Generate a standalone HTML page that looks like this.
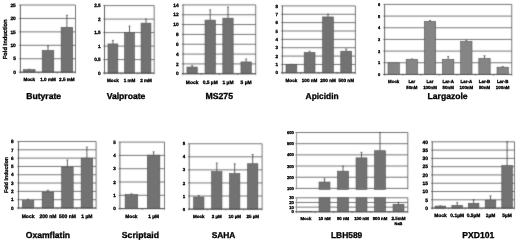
<!DOCTYPE html>
<html lang="en">
<head>
<meta charset="utf-8">
<title>HDAC inhibitor fold induction charts</title>
<style>
html,body{margin:0;padding:0;background:#fff;}
body{width:520px;height:243px;overflow:hidden;}
svg{display:block;font-family:"Liberation Sans",Arial,Helvetica,sans-serif;font-weight:bold;fill:#000;text-rendering:geometricPrecision;}
</style>
</head>
<body>
<svg width="520" height="243" viewBox="0 0 520 243">
<rect x="0" y="0" width="520" height="243" fill="#ffffff" stroke="none"/>
<defs>
<filter id="soft" x="0" y="0" width="520" height="243" filterUnits="userSpaceOnUse">
<feConvolveMatrix order="3" kernelMatrix="0.0144 0.0912 0.0144 0.0912 0.5776 0.0912 0.0144 0.0912 0.0144" divisor="1" edgeMode="duplicate" preserveAlpha="false"/>
</filter>
</defs>
<g filter="url(#soft)">
<line x1="19.20" y1="72.20" x2="75.50" y2="72.20" stroke="#555555" stroke-width="0.8"/>
<line x1="19.20" y1="58.76" x2="75.50" y2="58.76" stroke="#555555" stroke-width="0.8"/>
<line x1="19.20" y1="45.32" x2="75.50" y2="45.32" stroke="#555555" stroke-width="0.8"/>
<line x1="19.20" y1="31.88" x2="75.50" y2="31.88" stroke="#555555" stroke-width="0.8"/>
<line x1="19.20" y1="18.44" x2="75.50" y2="18.44" stroke="#555555" stroke-width="0.8"/>
<line x1="19.20" y1="5.00" x2="75.50" y2="5.00" stroke="#555555" stroke-width="0.8"/>
<line x1="20.40" y1="5.00" x2="20.40" y2="72.20" stroke="#505050" stroke-width="0.9"/>
<line x1="75.50" y1="5.00" x2="75.50" y2="72.20" stroke="#555555" stroke-width="0.8"/>
<line x1="29.30" y1="69.24" x2="29.30" y2="69.65" stroke="#444444" stroke-width="0.85"/>
<line x1="28.30" y1="69.24" x2="30.30" y2="69.24" stroke="#444444" stroke-width="0.7"/>
<rect x="23.55" y="69.65" width="11.50" height="2.55" fill="#727272" stroke="#4a4a4a" stroke-width="0.6"/>
<line x1="48.00" y1="45.86" x2="48.00" y2="50.43" stroke="#444444" stroke-width="0.85"/>
<line x1="47.00" y1="45.86" x2="49.00" y2="45.86" stroke="#444444" stroke-width="0.7"/>
<rect x="42.25" y="50.43" width="11.50" height="21.77" fill="#727272" stroke="#4a4a4a" stroke-width="0.6"/>
<line x1="66.90" y1="15.21" x2="66.90" y2="27.31" stroke="#444444" stroke-width="0.85"/>
<line x1="65.90" y1="15.21" x2="67.90" y2="15.21" stroke="#444444" stroke-width="0.7"/>
<rect x="61.15" y="27.31" width="11.50" height="44.89" fill="#727272" stroke="#4a4a4a" stroke-width="0.6"/>
<line x1="20.40" y1="72.20" x2="20.40" y2="73.40" stroke="#505050" stroke-width="0.7"/>
<line x1="38.77" y1="72.20" x2="38.77" y2="73.40" stroke="#505050" stroke-width="0.7"/>
<line x1="57.13" y1="72.20" x2="57.13" y2="73.40" stroke="#505050" stroke-width="0.7"/>
<line x1="75.50" y1="72.20" x2="75.50" y2="73.40" stroke="#505050" stroke-width="0.7"/>
<line x1="19.20" y1="72.20" x2="75.50" y2="72.20" stroke="#505050" stroke-width="0.9"/>
<line x1="103.30" y1="73.10" x2="154.20" y2="73.10" stroke="#555555" stroke-width="0.8"/>
<line x1="103.30" y1="59.60" x2="154.20" y2="59.60" stroke="#555555" stroke-width="0.8"/>
<line x1="103.30" y1="46.10" x2="154.20" y2="46.10" stroke="#555555" stroke-width="0.8"/>
<line x1="103.30" y1="32.60" x2="154.20" y2="32.60" stroke="#555555" stroke-width="0.8"/>
<line x1="103.30" y1="19.10" x2="154.20" y2="19.10" stroke="#555555" stroke-width="0.8"/>
<line x1="103.30" y1="5.60" x2="154.20" y2="5.60" stroke="#555555" stroke-width="0.8"/>
<line x1="104.50" y1="5.60" x2="104.50" y2="73.10" stroke="#505050" stroke-width="0.9"/>
<line x1="154.20" y1="5.60" x2="154.20" y2="73.10" stroke="#555555" stroke-width="0.8"/>
<line x1="112.90" y1="40.43" x2="112.90" y2="43.94" stroke="#444444" stroke-width="0.85"/>
<line x1="111.90" y1="40.43" x2="113.90" y2="40.43" stroke="#444444" stroke-width="0.7"/>
<rect x="108.00" y="43.94" width="9.80" height="29.16" fill="#727272" stroke="#4a4a4a" stroke-width="0.6"/>
<line x1="129.50" y1="26.12" x2="129.50" y2="32.60" stroke="#444444" stroke-width="0.85"/>
<line x1="128.50" y1="26.12" x2="130.50" y2="26.12" stroke="#444444" stroke-width="0.7"/>
<rect x="124.60" y="32.60" width="9.80" height="40.50" fill="#727272" stroke="#4a4a4a" stroke-width="0.6"/>
<line x1="146.00" y1="19.10" x2="146.00" y2="23.15" stroke="#444444" stroke-width="0.85"/>
<line x1="145.00" y1="19.10" x2="147.00" y2="19.10" stroke="#444444" stroke-width="0.7"/>
<rect x="141.10" y="23.15" width="9.80" height="49.95" fill="#727272" stroke="#4a4a4a" stroke-width="0.6"/>
<line x1="104.50" y1="73.10" x2="104.50" y2="74.30" stroke="#505050" stroke-width="0.7"/>
<line x1="121.07" y1="73.10" x2="121.07" y2="74.30" stroke="#505050" stroke-width="0.7"/>
<line x1="137.63" y1="73.10" x2="137.63" y2="74.30" stroke="#505050" stroke-width="0.7"/>
<line x1="154.20" y1="73.10" x2="154.20" y2="74.30" stroke="#505050" stroke-width="0.7"/>
<line x1="103.30" y1="73.10" x2="154.20" y2="73.10" stroke="#505050" stroke-width="0.9"/>
<line x1="181.90" y1="73.75" x2="255.70" y2="73.75" stroke="#555555" stroke-width="0.8"/>
<line x1="181.90" y1="63.91" x2="255.70" y2="63.91" stroke="#555555" stroke-width="0.8"/>
<line x1="181.90" y1="54.08" x2="255.70" y2="54.08" stroke="#555555" stroke-width="0.8"/>
<line x1="181.90" y1="44.24" x2="255.70" y2="44.24" stroke="#555555" stroke-width="0.8"/>
<line x1="181.90" y1="34.41" x2="255.70" y2="34.41" stroke="#555555" stroke-width="0.8"/>
<line x1="181.90" y1="24.57" x2="255.70" y2="24.57" stroke="#555555" stroke-width="0.8"/>
<line x1="181.90" y1="14.74" x2="255.70" y2="14.74" stroke="#555555" stroke-width="0.8"/>
<line x1="181.90" y1="4.90" x2="255.70" y2="4.90" stroke="#555555" stroke-width="0.8"/>
<line x1="183.10" y1="4.90" x2="183.10" y2="73.75" stroke="#505050" stroke-width="0.9"/>
<line x1="255.70" y1="4.90" x2="255.70" y2="73.75" stroke="#555555" stroke-width="0.8"/>
<line x1="192.10" y1="65.54" x2="192.10" y2="67.06" stroke="#444444" stroke-width="0.85"/>
<line x1="191.10" y1="65.54" x2="193.10" y2="65.54" stroke="#444444" stroke-width="0.7"/>
<rect x="186.95" y="67.06" width="10.30" height="6.69" fill="#727272" stroke="#4a4a4a" stroke-width="0.6"/>
<line x1="210.20" y1="9.82" x2="210.20" y2="20.15" stroke="#444444" stroke-width="0.85"/>
<line x1="209.20" y1="9.82" x2="211.20" y2="9.82" stroke="#444444" stroke-width="0.7"/>
<rect x="205.05" y="20.15" width="10.30" height="53.60" fill="#727272" stroke="#4a4a4a" stroke-width="0.6"/>
<line x1="228.00" y1="7.11" x2="228.00" y2="18.18" stroke="#444444" stroke-width="0.85"/>
<line x1="227.00" y1="7.11" x2="229.00" y2="7.11" stroke="#444444" stroke-width="0.7"/>
<rect x="222.85" y="18.18" width="10.30" height="55.57" fill="#727272" stroke="#4a4a4a" stroke-width="0.6"/>
<line x1="246.10" y1="59.00" x2="246.10" y2="61.95" stroke="#444444" stroke-width="0.85"/>
<line x1="245.10" y1="59.00" x2="247.10" y2="59.00" stroke="#444444" stroke-width="0.7"/>
<rect x="240.95" y="61.95" width="10.30" height="11.80" fill="#727272" stroke="#4a4a4a" stroke-width="0.6"/>
<line x1="183.10" y1="73.75" x2="183.10" y2="74.95" stroke="#505050" stroke-width="0.7"/>
<line x1="201.25" y1="73.75" x2="201.25" y2="74.95" stroke="#505050" stroke-width="0.7"/>
<line x1="219.40" y1="73.75" x2="219.40" y2="74.95" stroke="#505050" stroke-width="0.7"/>
<line x1="237.55" y1="73.75" x2="237.55" y2="74.95" stroke="#505050" stroke-width="0.7"/>
<line x1="255.70" y1="73.75" x2="255.70" y2="74.95" stroke="#505050" stroke-width="0.7"/>
<line x1="181.90" y1="73.75" x2="255.70" y2="73.75" stroke="#505050" stroke-width="0.9"/>
<line x1="281.20" y1="72.80" x2="355.40" y2="72.80" stroke="#555555" stroke-width="0.8"/>
<line x1="281.20" y1="64.44" x2="355.40" y2="64.44" stroke="#555555" stroke-width="0.8"/>
<line x1="281.20" y1="56.08" x2="355.40" y2="56.08" stroke="#555555" stroke-width="0.8"/>
<line x1="281.20" y1="47.71" x2="355.40" y2="47.71" stroke="#555555" stroke-width="0.8"/>
<line x1="281.20" y1="39.35" x2="355.40" y2="39.35" stroke="#555555" stroke-width="0.8"/>
<line x1="281.20" y1="30.99" x2="355.40" y2="30.99" stroke="#555555" stroke-width="0.8"/>
<line x1="281.20" y1="22.62" x2="355.40" y2="22.62" stroke="#555555" stroke-width="0.8"/>
<line x1="281.20" y1="14.26" x2="355.40" y2="14.26" stroke="#555555" stroke-width="0.8"/>
<line x1="281.20" y1="5.90" x2="355.40" y2="5.90" stroke="#555555" stroke-width="0.8"/>
<line x1="282.40" y1="5.90" x2="282.40" y2="72.80" stroke="#505050" stroke-width="0.9"/>
<line x1="355.40" y1="5.90" x2="355.40" y2="72.80" stroke="#555555" stroke-width="0.8"/>
<line x1="291.40" y1="64.27" x2="291.40" y2="64.44" stroke="#444444" stroke-width="0.85"/>
<line x1="290.40" y1="64.27" x2="292.40" y2="64.27" stroke="#444444" stroke-width="0.7"/>
<rect x="286.00" y="64.44" width="10.80" height="8.36" fill="#727272" stroke="#4a4a4a" stroke-width="0.6"/>
<line x1="309.60" y1="51.22" x2="309.60" y2="52.48" stroke="#444444" stroke-width="0.85"/>
<line x1="308.60" y1="51.22" x2="310.60" y2="51.22" stroke="#444444" stroke-width="0.7"/>
<rect x="304.20" y="52.48" width="10.80" height="20.32" fill="#727272" stroke="#4a4a4a" stroke-width="0.6"/>
<line x1="328.00" y1="14.26" x2="328.00" y2="16.94" stroke="#444444" stroke-width="0.85"/>
<line x1="327.00" y1="14.26" x2="329.00" y2="14.26" stroke="#444444" stroke-width="0.7"/>
<rect x="322.60" y="16.94" width="10.80" height="55.86" fill="#727272" stroke="#4a4a4a" stroke-width="0.6"/>
<line x1="346.20" y1="48.97" x2="346.20" y2="51.22" stroke="#444444" stroke-width="0.85"/>
<line x1="345.20" y1="48.97" x2="347.20" y2="48.97" stroke="#444444" stroke-width="0.7"/>
<rect x="340.80" y="51.22" width="10.80" height="21.58" fill="#727272" stroke="#4a4a4a" stroke-width="0.6"/>
<line x1="282.40" y1="72.80" x2="282.40" y2="74.00" stroke="#505050" stroke-width="0.7"/>
<line x1="300.65" y1="72.80" x2="300.65" y2="74.00" stroke="#505050" stroke-width="0.7"/>
<line x1="318.90" y1="72.80" x2="318.90" y2="74.00" stroke="#505050" stroke-width="0.7"/>
<line x1="337.15" y1="72.80" x2="337.15" y2="74.00" stroke="#505050" stroke-width="0.7"/>
<line x1="355.40" y1="72.80" x2="355.40" y2="74.00" stroke="#505050" stroke-width="0.7"/>
<line x1="281.20" y1="72.80" x2="355.40" y2="72.80" stroke="#505050" stroke-width="0.9"/>
<line x1="383.40" y1="74.45" x2="511.75" y2="74.45" stroke="#555555" stroke-width="0.8"/>
<line x1="383.40" y1="62.78" x2="511.75" y2="62.78" stroke="#555555" stroke-width="0.8"/>
<line x1="383.40" y1="51.10" x2="511.75" y2="51.10" stroke="#555555" stroke-width="0.8"/>
<line x1="383.40" y1="39.43" x2="511.75" y2="39.43" stroke="#555555" stroke-width="0.8"/>
<line x1="383.40" y1="27.75" x2="511.75" y2="27.75" stroke="#555555" stroke-width="0.8"/>
<line x1="383.40" y1="16.08" x2="511.75" y2="16.08" stroke="#555555" stroke-width="0.8"/>
<line x1="383.40" y1="4.40" x2="511.75" y2="4.40" stroke="#555555" stroke-width="0.8"/>
<line x1="384.60" y1="4.40" x2="384.60" y2="74.45" stroke="#505050" stroke-width="0.9"/>
<line x1="511.75" y1="4.40" x2="511.75" y2="74.45" stroke="#555555" stroke-width="0.8"/>
<rect x="388.03" y="62.78" width="11.30" height="11.67" fill="#858585" stroke="#4a4a4a" stroke-width="0.6"/>
<line x1="411.85" y1="58.92" x2="411.85" y2="59.39" stroke="#444444" stroke-width="0.85"/>
<line x1="410.85" y1="58.92" x2="412.85" y2="58.92" stroke="#444444" stroke-width="0.7"/>
<rect x="406.20" y="59.39" width="11.30" height="15.06" fill="#858585" stroke="#4a4a4a" stroke-width="0.6"/>
<line x1="430.01" y1="20.51" x2="430.01" y2="21.45" stroke="#444444" stroke-width="0.85"/>
<line x1="429.01" y1="20.51" x2="431.01" y2="20.51" stroke="#444444" stroke-width="0.7"/>
<rect x="424.36" y="21.45" width="11.30" height="53.00" fill="#858585" stroke="#4a4a4a" stroke-width="0.6"/>
<line x1="448.18" y1="56.47" x2="448.18" y2="59.39" stroke="#444444" stroke-width="0.85"/>
<line x1="447.18" y1="56.47" x2="449.18" y2="56.47" stroke="#444444" stroke-width="0.7"/>
<rect x="442.53" y="59.39" width="11.30" height="15.06" fill="#858585" stroke="#4a4a4a" stroke-width="0.6"/>
<line x1="466.34" y1="40.24" x2="466.34" y2="41.41" stroke="#444444" stroke-width="0.85"/>
<line x1="465.34" y1="40.24" x2="467.34" y2="40.24" stroke="#444444" stroke-width="0.7"/>
<rect x="460.69" y="41.41" width="11.30" height="33.04" fill="#858585" stroke="#4a4a4a" stroke-width="0.6"/>
<line x1="484.50" y1="55.77" x2="484.50" y2="58.46" stroke="#444444" stroke-width="0.85"/>
<line x1="483.50" y1="55.77" x2="485.50" y2="55.77" stroke="#444444" stroke-width="0.7"/>
<rect x="478.85" y="58.46" width="11.30" height="15.99" fill="#858585" stroke="#4a4a4a" stroke-width="0.6"/>
<line x1="502.67" y1="66.51" x2="502.67" y2="67.21" stroke="#444444" stroke-width="0.85"/>
<line x1="501.67" y1="66.51" x2="503.67" y2="66.51" stroke="#444444" stroke-width="0.7"/>
<rect x="497.02" y="67.21" width="11.30" height="7.24" fill="#858585" stroke="#4a4a4a" stroke-width="0.6"/>
<line x1="384.60" y1="74.45" x2="384.60" y2="75.65" stroke="#505050" stroke-width="0.7"/>
<line x1="402.76" y1="74.45" x2="402.76" y2="75.65" stroke="#505050" stroke-width="0.7"/>
<line x1="420.93" y1="74.45" x2="420.93" y2="75.65" stroke="#505050" stroke-width="0.7"/>
<line x1="439.09" y1="74.45" x2="439.09" y2="75.65" stroke="#505050" stroke-width="0.7"/>
<line x1="457.26" y1="74.45" x2="457.26" y2="75.65" stroke="#505050" stroke-width="0.7"/>
<line x1="475.42" y1="74.45" x2="475.42" y2="75.65" stroke="#505050" stroke-width="0.7"/>
<line x1="493.59" y1="74.45" x2="493.59" y2="75.65" stroke="#505050" stroke-width="0.7"/>
<line x1="511.75" y1="74.45" x2="511.75" y2="75.65" stroke="#505050" stroke-width="0.7"/>
<line x1="383.40" y1="74.45" x2="511.75" y2="74.45" stroke="#505050" stroke-width="0.9"/>
<line x1="17.30" y1="208.00" x2="96.10" y2="208.00" stroke="#555555" stroke-width="0.8"/>
<line x1="17.30" y1="199.69" x2="96.10" y2="199.69" stroke="#555555" stroke-width="0.8"/>
<line x1="17.30" y1="191.38" x2="96.10" y2="191.38" stroke="#555555" stroke-width="0.8"/>
<line x1="17.30" y1="183.06" x2="96.10" y2="183.06" stroke="#555555" stroke-width="0.8"/>
<line x1="17.30" y1="174.75" x2="96.10" y2="174.75" stroke="#555555" stroke-width="0.8"/>
<line x1="17.30" y1="166.44" x2="96.10" y2="166.44" stroke="#555555" stroke-width="0.8"/>
<line x1="17.30" y1="158.12" x2="96.10" y2="158.12" stroke="#555555" stroke-width="0.8"/>
<line x1="17.30" y1="149.81" x2="96.10" y2="149.81" stroke="#555555" stroke-width="0.8"/>
<line x1="17.30" y1="141.50" x2="96.10" y2="141.50" stroke="#555555" stroke-width="0.8"/>
<line x1="18.50" y1="141.50" x2="18.50" y2="208.00" stroke="#505050" stroke-width="0.9"/>
<line x1="96.10" y1="141.50" x2="96.10" y2="208.00" stroke="#555555" stroke-width="0.8"/>
<line x1="28.05" y1="199.27" x2="28.05" y2="200.52" stroke="#444444" stroke-width="0.85"/>
<line x1="27.05" y1="199.27" x2="29.05" y2="199.27" stroke="#444444" stroke-width="0.7"/>
<rect x="22.30" y="200.52" width="11.50" height="7.48" fill="#727272" stroke="#4a4a4a" stroke-width="0.6"/>
<line x1="47.90" y1="190.13" x2="47.90" y2="192.04" stroke="#444444" stroke-width="0.85"/>
<line x1="46.90" y1="190.13" x2="48.90" y2="190.13" stroke="#444444" stroke-width="0.7"/>
<rect x="42.15" y="192.04" width="11.50" height="15.96" fill="#727272" stroke="#4a4a4a" stroke-width="0.6"/>
<line x1="67.40" y1="159.95" x2="67.40" y2="167.02" stroke="#444444" stroke-width="0.85"/>
<line x1="66.40" y1="159.95" x2="68.40" y2="159.95" stroke="#444444" stroke-width="0.7"/>
<rect x="61.65" y="167.02" width="11.50" height="40.98" fill="#727272" stroke="#4a4a4a" stroke-width="0.6"/>
<line x1="86.90" y1="147.07" x2="86.90" y2="158.12" stroke="#444444" stroke-width="0.85"/>
<line x1="85.90" y1="147.07" x2="87.90" y2="147.07" stroke="#444444" stroke-width="0.7"/>
<rect x="81.15" y="158.12" width="11.50" height="49.88" fill="#727272" stroke="#4a4a4a" stroke-width="0.6"/>
<line x1="18.50" y1="208.00" x2="18.50" y2="209.20" stroke="#505050" stroke-width="0.7"/>
<line x1="37.90" y1="208.00" x2="37.90" y2="209.20" stroke="#505050" stroke-width="0.7"/>
<line x1="57.30" y1="208.00" x2="57.30" y2="209.20" stroke="#505050" stroke-width="0.7"/>
<line x1="76.70" y1="208.00" x2="76.70" y2="209.20" stroke="#505050" stroke-width="0.7"/>
<line x1="96.10" y1="208.00" x2="96.10" y2="209.20" stroke="#505050" stroke-width="0.7"/>
<line x1="17.30" y1="208.00" x2="96.10" y2="208.00" stroke="#505050" stroke-width="0.9"/>
<line x1="118.70" y1="208.60" x2="164.50" y2="208.60" stroke="#555555" stroke-width="0.8"/>
<line x1="118.70" y1="195.30" x2="164.50" y2="195.30" stroke="#555555" stroke-width="0.8"/>
<line x1="118.70" y1="182.00" x2="164.50" y2="182.00" stroke="#555555" stroke-width="0.8"/>
<line x1="118.70" y1="168.70" x2="164.50" y2="168.70" stroke="#555555" stroke-width="0.8"/>
<line x1="118.70" y1="155.40" x2="164.50" y2="155.40" stroke="#555555" stroke-width="0.8"/>
<line x1="118.70" y1="142.10" x2="164.50" y2="142.10" stroke="#555555" stroke-width="0.8"/>
<line x1="119.90" y1="142.10" x2="119.90" y2="208.60" stroke="#505050" stroke-width="0.9"/>
<line x1="164.50" y1="142.10" x2="164.50" y2="208.60" stroke="#555555" stroke-width="0.8"/>
<line x1="131.40" y1="193.84" x2="131.40" y2="194.63" stroke="#444444" stroke-width="0.85"/>
<line x1="130.40" y1="193.84" x2="132.40" y2="193.84" stroke="#444444" stroke-width="0.7"/>
<rect x="125.15" y="194.63" width="12.50" height="13.97" fill="#727272" stroke="#4a4a4a" stroke-width="0.6"/>
<line x1="153.60" y1="151.81" x2="153.60" y2="155.13" stroke="#444444" stroke-width="0.85"/>
<line x1="152.60" y1="151.81" x2="154.60" y2="151.81" stroke="#444444" stroke-width="0.7"/>
<rect x="147.35" y="155.13" width="12.50" height="53.47" fill="#727272" stroke="#4a4a4a" stroke-width="0.6"/>
<line x1="119.90" y1="208.60" x2="119.90" y2="209.80" stroke="#505050" stroke-width="0.7"/>
<line x1="142.20" y1="208.60" x2="142.20" y2="209.80" stroke="#505050" stroke-width="0.7"/>
<line x1="164.50" y1="208.60" x2="164.50" y2="209.80" stroke="#505050" stroke-width="0.7"/>
<line x1="118.70" y1="208.60" x2="164.50" y2="208.60" stroke="#505050" stroke-width="0.9"/>
<line x1="188.00" y1="209.10" x2="262.10" y2="209.10" stroke="#555555" stroke-width="0.8"/>
<line x1="188.00" y1="196.03" x2="262.10" y2="196.03" stroke="#555555" stroke-width="0.8"/>
<line x1="188.00" y1="182.96" x2="262.10" y2="182.96" stroke="#555555" stroke-width="0.8"/>
<line x1="188.00" y1="169.89" x2="262.10" y2="169.89" stroke="#555555" stroke-width="0.8"/>
<line x1="188.00" y1="156.82" x2="262.10" y2="156.82" stroke="#555555" stroke-width="0.8"/>
<line x1="188.00" y1="143.75" x2="262.10" y2="143.75" stroke="#555555" stroke-width="0.8"/>
<line x1="189.20" y1="143.75" x2="189.20" y2="209.10" stroke="#505050" stroke-width="0.9"/>
<line x1="262.10" y1="143.75" x2="262.10" y2="209.10" stroke="#555555" stroke-width="0.8"/>
<line x1="198.80" y1="195.64" x2="198.80" y2="197.08" stroke="#444444" stroke-width="0.85"/>
<line x1="197.80" y1="195.64" x2="199.80" y2="195.64" stroke="#444444" stroke-width="0.7"/>
<rect x="193.65" y="197.08" width="10.30" height="12.02" fill="#727272" stroke="#4a4a4a" stroke-width="0.6"/>
<line x1="216.80" y1="163.09" x2="216.80" y2="171.59" stroke="#444444" stroke-width="0.85"/>
<line x1="215.80" y1="163.09" x2="217.80" y2="163.09" stroke="#444444" stroke-width="0.7"/>
<rect x="211.65" y="171.59" width="10.30" height="37.51" fill="#727272" stroke="#4a4a4a" stroke-width="0.6"/>
<line x1="234.70" y1="163.75" x2="234.70" y2="173.55" stroke="#444444" stroke-width="0.85"/>
<line x1="233.70" y1="163.75" x2="235.70" y2="163.75" stroke="#444444" stroke-width="0.7"/>
<rect x="229.55" y="173.55" width="10.30" height="35.55" fill="#727272" stroke="#4a4a4a" stroke-width="0.6"/>
<line x1="252.70" y1="154.47" x2="252.70" y2="163.75" stroke="#444444" stroke-width="0.85"/>
<line x1="251.70" y1="154.47" x2="253.70" y2="154.47" stroke="#444444" stroke-width="0.7"/>
<rect x="247.55" y="163.75" width="10.30" height="45.35" fill="#727272" stroke="#4a4a4a" stroke-width="0.6"/>
<line x1="189.20" y1="209.10" x2="189.20" y2="210.30" stroke="#505050" stroke-width="0.7"/>
<line x1="207.43" y1="209.10" x2="207.43" y2="210.30" stroke="#505050" stroke-width="0.7"/>
<line x1="225.65" y1="209.10" x2="225.65" y2="210.30" stroke="#505050" stroke-width="0.7"/>
<line x1="243.88" y1="209.10" x2="243.88" y2="210.30" stroke="#505050" stroke-width="0.7"/>
<line x1="262.10" y1="209.10" x2="262.10" y2="210.30" stroke="#505050" stroke-width="0.7"/>
<line x1="188.00" y1="209.10" x2="262.10" y2="209.10" stroke="#505050" stroke-width="0.9"/>
<line x1="431.10" y1="208.10" x2="514.50" y2="208.10" stroke="#555555" stroke-width="0.8"/>
<line x1="431.10" y1="199.81" x2="514.50" y2="199.81" stroke="#555555" stroke-width="0.8"/>
<line x1="431.10" y1="191.53" x2="514.50" y2="191.53" stroke="#555555" stroke-width="0.8"/>
<line x1="431.10" y1="183.24" x2="514.50" y2="183.24" stroke="#555555" stroke-width="0.8"/>
<line x1="431.10" y1="174.95" x2="514.50" y2="174.95" stroke="#555555" stroke-width="0.8"/>
<line x1="431.10" y1="166.66" x2="514.50" y2="166.66" stroke="#555555" stroke-width="0.8"/>
<line x1="431.10" y1="158.38" x2="514.50" y2="158.38" stroke="#555555" stroke-width="0.8"/>
<line x1="431.10" y1="150.09" x2="514.50" y2="150.09" stroke="#555555" stroke-width="0.8"/>
<line x1="431.10" y1="141.80" x2="514.50" y2="141.80" stroke="#555555" stroke-width="0.8"/>
<line x1="432.30" y1="141.80" x2="432.30" y2="208.10" stroke="#505050" stroke-width="0.9"/>
<line x1="514.50" y1="141.80" x2="514.50" y2="208.10" stroke="#555555" stroke-width="0.8"/>
<line x1="440.40" y1="205.78" x2="440.40" y2="206.11" stroke="#444444" stroke-width="0.85"/>
<line x1="439.40" y1="205.78" x2="441.40" y2="205.78" stroke="#444444" stroke-width="0.7"/>
<rect x="435.10" y="206.11" width="10.60" height="1.99" fill="#727272" stroke="#4a4a4a" stroke-width="0.6"/>
<line x1="457.20" y1="202.63" x2="457.20" y2="205.45" stroke="#444444" stroke-width="0.85"/>
<line x1="456.20" y1="202.63" x2="458.20" y2="202.63" stroke="#444444" stroke-width="0.7"/>
<rect x="451.90" y="205.45" width="10.60" height="2.65" fill="#727272" stroke="#4a4a4a" stroke-width="0.6"/>
<line x1="473.60" y1="199.65" x2="473.60" y2="203.29" stroke="#444444" stroke-width="0.85"/>
<line x1="472.60" y1="199.65" x2="474.60" y2="199.65" stroke="#444444" stroke-width="0.7"/>
<rect x="468.30" y="203.29" width="10.60" height="4.81" fill="#727272" stroke="#4a4a4a" stroke-width="0.6"/>
<line x1="490.50" y1="195.83" x2="490.50" y2="200.14" stroke="#444444" stroke-width="0.85"/>
<line x1="489.50" y1="195.83" x2="491.50" y2="195.83" stroke="#444444" stroke-width="0.7"/>
<rect x="485.20" y="200.14" width="10.60" height="7.96" fill="#727272" stroke="#4a4a4a" stroke-width="0.6"/>
<line x1="507.10" y1="141.80" x2="507.10" y2="165.50" stroke="#444444" stroke-width="0.85"/>
<line x1="506.10" y1="141.80" x2="508.10" y2="141.80" stroke="#444444" stroke-width="0.7"/>
<rect x="501.80" y="165.50" width="10.60" height="42.60" fill="#727272" stroke="#4a4a4a" stroke-width="0.6"/>
<line x1="432.30" y1="208.10" x2="432.30" y2="209.30" stroke="#505050" stroke-width="0.7"/>
<line x1="448.74" y1="208.10" x2="448.74" y2="209.30" stroke="#505050" stroke-width="0.7"/>
<line x1="465.18" y1="208.10" x2="465.18" y2="209.30" stroke="#505050" stroke-width="0.7"/>
<line x1="481.62" y1="208.10" x2="481.62" y2="209.30" stroke="#505050" stroke-width="0.7"/>
<line x1="498.06" y1="208.10" x2="498.06" y2="209.30" stroke="#505050" stroke-width="0.7"/>
<line x1="514.50" y1="208.10" x2="514.50" y2="209.30" stroke="#505050" stroke-width="0.7"/>
<line x1="431.10" y1="208.10" x2="514.50" y2="208.10" stroke="#505050" stroke-width="0.9"/>
<line x1="295.30" y1="188.40" x2="407.80" y2="188.40" stroke="#555555" stroke-width="0.8"/>
<line x1="295.30" y1="177.22" x2="407.80" y2="177.22" stroke="#555555" stroke-width="0.8"/>
<line x1="295.30" y1="166.04" x2="407.80" y2="166.04" stroke="#555555" stroke-width="0.8"/>
<line x1="295.30" y1="154.86" x2="407.80" y2="154.86" stroke="#555555" stroke-width="0.8"/>
<line x1="295.30" y1="143.68" x2="407.80" y2="143.68" stroke="#555555" stroke-width="0.8"/>
<line x1="295.30" y1="132.50" x2="407.80" y2="132.50" stroke="#555555" stroke-width="0.8"/>
<line x1="295.30" y1="211.80" x2="407.80" y2="211.80" stroke="#555555" stroke-width="0.8"/>
<line x1="295.30" y1="207.13" x2="407.80" y2="207.13" stroke="#555555" stroke-width="0.8"/>
<line x1="295.30" y1="202.47" x2="407.80" y2="202.47" stroke="#555555" stroke-width="0.8"/>
<line x1="295.30" y1="197.80" x2="407.80" y2="197.80" stroke="#555555" stroke-width="0.8"/>
<line x1="296.50" y1="132.50" x2="296.50" y2="189.40" stroke="#888" stroke-width="0.9"/>
<line x1="407.80" y1="132.50" x2="407.80" y2="189.40" stroke="#555555" stroke-width="0.8"/>
<line x1="296.50" y1="197.80" x2="296.50" y2="211.80" stroke="#888" stroke-width="0.9"/>
<line x1="407.80" y1="197.80" x2="407.80" y2="211.80" stroke="#555555" stroke-width="0.8"/>
<rect x="300.45" y="211.52" width="10.90" height="0.28" fill="#727272" stroke="#4a4a4a" stroke-width="0.6"/>
<line x1="324.50" y1="178.79" x2="324.50" y2="182.03" stroke="#444444" stroke-width="0.85"/>
<line x1="323.50" y1="178.79" x2="325.50" y2="178.79" stroke="#444444" stroke-width="0.7"/>
<rect x="319.05" y="182.03" width="10.90" height="7.37" fill="#727272" stroke="#4a4a4a" stroke-width="0.6"/>
<rect x="319.05" y="197.80" width="10.90" height="14.00" fill="#727272" stroke="#4a4a4a" stroke-width="0.6"/>
<line x1="343.00" y1="166.26" x2="343.00" y2="171.18" stroke="#444444" stroke-width="0.85"/>
<line x1="342.00" y1="166.26" x2="344.00" y2="166.26" stroke="#444444" stroke-width="0.7"/>
<rect x="337.55" y="171.18" width="10.90" height="18.22" fill="#727272" stroke="#4a4a4a" stroke-width="0.6"/>
<rect x="337.55" y="197.80" width="10.90" height="14.00" fill="#727272" stroke="#4a4a4a" stroke-width="0.6"/>
<line x1="361.50" y1="152.40" x2="361.50" y2="157.88" stroke="#444444" stroke-width="0.85"/>
<line x1="360.50" y1="152.40" x2="362.50" y2="152.40" stroke="#444444" stroke-width="0.7"/>
<rect x="356.05" y="157.88" width="10.90" height="31.52" fill="#727272" stroke="#4a4a4a" stroke-width="0.6"/>
<rect x="356.05" y="197.80" width="10.90" height="14.00" fill="#727272" stroke="#4a4a4a" stroke-width="0.6"/>
<line x1="380.00" y1="132.50" x2="380.00" y2="150.72" stroke="#444444" stroke-width="0.85"/>
<line x1="379.00" y1="132.50" x2="381.00" y2="132.50" stroke="#444444" stroke-width="0.7"/>
<rect x="374.55" y="150.72" width="10.90" height="38.68" fill="#727272" stroke="#4a4a4a" stroke-width="0.6"/>
<rect x="374.55" y="197.80" width="10.90" height="14.00" fill="#727272" stroke="#4a4a4a" stroke-width="0.6"/>
<line x1="398.50" y1="202.47" x2="398.50" y2="204.33" stroke="#444444" stroke-width="0.85"/>
<line x1="397.50" y1="202.47" x2="399.50" y2="202.47" stroke="#444444" stroke-width="0.7"/>
<rect x="393.05" y="204.33" width="10.90" height="7.47" fill="#727272" stroke="#4a4a4a" stroke-width="0.6"/>
<line x1="296.50" y1="211.80" x2="296.50" y2="213.00" stroke="#505050" stroke-width="0.7"/>
<line x1="315.05" y1="211.80" x2="315.05" y2="213.00" stroke="#505050" stroke-width="0.7"/>
<line x1="333.60" y1="211.80" x2="333.60" y2="213.00" stroke="#505050" stroke-width="0.7"/>
<line x1="352.15" y1="211.80" x2="352.15" y2="213.00" stroke="#505050" stroke-width="0.7"/>
<line x1="370.70" y1="211.80" x2="370.70" y2="213.00" stroke="#505050" stroke-width="0.7"/>
<line x1="389.25" y1="211.80" x2="389.25" y2="213.00" stroke="#505050" stroke-width="0.7"/>
<line x1="407.80" y1="211.80" x2="407.80" y2="213.00" stroke="#505050" stroke-width="0.7"/>
<line x1="295.30" y1="211.80" x2="407.80" y2="211.80" stroke="#505050" stroke-width="0.9"/>
</g>
<g>
<text transform="translate(15.80 73.92) scale(1 1)" font-size="4.8" text-anchor="end" stroke="#000" stroke-width="0.3">0</text>
<text transform="translate(15.80 60.48) scale(1 1)" font-size="4.8" text-anchor="end" stroke="#000" stroke-width="0.3">5</text>
<text transform="translate(15.80 47.04) scale(1 1)" font-size="4.8" text-anchor="end" stroke="#000" stroke-width="0.3">10</text>
<text transform="translate(15.80 33.60) scale(1 1)" font-size="4.8" text-anchor="end" stroke="#000" stroke-width="0.3">15</text>
<text transform="translate(15.80 20.16) scale(1 1)" font-size="4.8" text-anchor="end" stroke="#000" stroke-width="0.3">20</text>
<text transform="translate(15.80 6.72) scale(1 1)" font-size="4.8" text-anchor="end" stroke="#000" stroke-width="0.3">25</text>
<text transform="translate(29.30 81.25) scale(1 1.0)" font-size="4.6" text-anchor="middle" stroke="#000" stroke-width="0.3">Mock</text>
<text transform="translate(48.00 81.25) scale(1 1.0)" font-size="4.6" text-anchor="middle" stroke="#000" stroke-width="0.3">1.0 mM</text>
<text transform="translate(66.90 81.25) scale(1 1.0)" font-size="4.6" text-anchor="middle" stroke="#000" stroke-width="0.3">2.5 mM</text>
<text transform="translate(43.70 99.08) scale(1 1)" font-size="8.6" text-anchor="middle" stroke="#000" stroke-width="0.3">Butyrate</text>
<text transform="translate(100.70 74.78) scale(1 1)" font-size="4.7" text-anchor="end" stroke="#000" stroke-width="0.3">0</text>
<text transform="translate(100.70 61.28) scale(1 1)" font-size="4.7" text-anchor="end" stroke="#000" stroke-width="0.3">0.5</text>
<text transform="translate(100.70 47.78) scale(1 1)" font-size="4.7" text-anchor="end" stroke="#000" stroke-width="0.3">1</text>
<text transform="translate(100.70 34.28) scale(1 1)" font-size="4.7" text-anchor="end" stroke="#000" stroke-width="0.3">1.5</text>
<text transform="translate(100.70 20.78) scale(1 1)" font-size="4.7" text-anchor="end" stroke="#000" stroke-width="0.3">2</text>
<text transform="translate(100.70 7.28) scale(1 1)" font-size="4.7" text-anchor="end" stroke="#000" stroke-width="0.3">2.5</text>
<text transform="translate(112.90 81.65) scale(1 1.0)" font-size="4.6" text-anchor="middle" stroke="#000" stroke-width="0.3">Mock</text>
<text transform="translate(129.50 81.65) scale(1 1.0)" font-size="4.6" text-anchor="middle" stroke="#000" stroke-width="0.3">1 mM</text>
<text transform="translate(146.00 81.65) scale(1 1.0)" font-size="4.6" text-anchor="middle" stroke="#000" stroke-width="0.3">2 mM</text>
<text transform="translate(126.00 99.08) scale(1 1)" font-size="8.6" text-anchor="middle" stroke="#000" stroke-width="0.3">Valproate</text>
<text transform="translate(178.60 75.47) scale(1 1)" font-size="4.8" text-anchor="end" stroke="#000" stroke-width="0.3">0</text>
<text transform="translate(178.60 65.63) scale(1 1)" font-size="4.8" text-anchor="end" stroke="#000" stroke-width="0.3">2</text>
<text transform="translate(178.60 55.80) scale(1 1)" font-size="4.8" text-anchor="end" stroke="#000" stroke-width="0.3">4</text>
<text transform="translate(178.60 45.96) scale(1 1)" font-size="4.8" text-anchor="end" stroke="#000" stroke-width="0.3">6</text>
<text transform="translate(178.60 36.13) scale(1 1)" font-size="4.8" text-anchor="end" stroke="#000" stroke-width="0.3">8</text>
<text transform="translate(178.60 26.29) scale(1 1)" font-size="4.8" text-anchor="end" stroke="#000" stroke-width="0.3">10</text>
<text transform="translate(178.60 16.45) scale(1 1)" font-size="4.8" text-anchor="end" stroke="#000" stroke-width="0.3">12</text>
<text transform="translate(178.60 6.62) scale(1 1)" font-size="4.8" text-anchor="end" stroke="#000" stroke-width="0.3">14</text>
<text transform="translate(192.10 83.55) scale(1 1.0)" font-size="4.9" text-anchor="middle" stroke="#000" stroke-width="0.3">Mock</text>
<text transform="translate(210.20 83.55) scale(1 1.0)" font-size="4.9" text-anchor="middle" stroke="#000" stroke-width="0.3">0.5 µM</text>
<text transform="translate(228.00 83.55) scale(1 1.0)" font-size="4.9" text-anchor="middle" stroke="#000" stroke-width="0.3">1 µM</text>
<text transform="translate(246.10 83.55) scale(1 1.0)" font-size="4.9" text-anchor="middle" stroke="#000" stroke-width="0.3">5 µM</text>
<text transform="translate(219.20 99.11) scale(1 1)" font-size="8.7" text-anchor="middle" stroke="#000" stroke-width="0.3">MS275</text>
<text transform="translate(278.00 74.41) scale(1 1)" font-size="4.5" text-anchor="end" stroke="#000" stroke-width="0.3">0</text>
<text transform="translate(278.00 66.05) scale(1 1)" font-size="4.5" text-anchor="end" stroke="#000" stroke-width="0.3">1</text>
<text transform="translate(278.00 57.69) scale(1 1)" font-size="4.5" text-anchor="end" stroke="#000" stroke-width="0.3">2</text>
<text transform="translate(278.00 49.32) scale(1 1)" font-size="4.5" text-anchor="end" stroke="#000" stroke-width="0.3">3</text>
<text transform="translate(278.00 40.96) scale(1 1)" font-size="4.5" text-anchor="end" stroke="#000" stroke-width="0.3">4</text>
<text transform="translate(278.00 32.60) scale(1 1)" font-size="4.5" text-anchor="end" stroke="#000" stroke-width="0.3">5</text>
<text transform="translate(278.00 24.24) scale(1 1)" font-size="4.5" text-anchor="end" stroke="#000" stroke-width="0.3">6</text>
<text transform="translate(278.00 15.87) scale(1 1)" font-size="4.5" text-anchor="end" stroke="#000" stroke-width="0.3">7</text>
<text transform="translate(278.00 7.51) scale(1 1)" font-size="4.5" text-anchor="end" stroke="#000" stroke-width="0.3">8</text>
<text transform="translate(291.40 82.15) scale(1 1.0)" font-size="4.6" text-anchor="middle" stroke="#000" stroke-width="0.3">Mock</text>
<text transform="translate(309.60 82.15) scale(1 1.0)" font-size="4.6" text-anchor="middle" stroke="#000" stroke-width="0.3">100 nM</text>
<text transform="translate(328.00 82.15) scale(1 1.0)" font-size="4.6" text-anchor="middle" stroke="#000" stroke-width="0.3">200 nM</text>
<text transform="translate(346.20 82.15) scale(1 1.0)" font-size="4.6" text-anchor="middle" stroke="#000" stroke-width="0.3">500 nM</text>
<text transform="translate(322.10 99.01) scale(1 1)" font-size="8.4" text-anchor="middle" stroke="#000" stroke-width="0.3">Apicidin</text>
<text transform="translate(380.20 75.88) scale(1 1)" font-size="4.0" text-anchor="end" stroke="#000" stroke-width="0.3">0</text>
<text transform="translate(380.20 64.21) scale(1 1)" font-size="4.0" text-anchor="end" stroke="#000" stroke-width="0.3">1</text>
<text transform="translate(380.20 52.53) scale(1 1)" font-size="4.0" text-anchor="end" stroke="#000" stroke-width="0.3">2</text>
<text transform="translate(380.20 40.86) scale(1 1)" font-size="4.0" text-anchor="end" stroke="#000" stroke-width="0.3">3</text>
<text transform="translate(380.20 29.18) scale(1 1)" font-size="4.0" text-anchor="end" stroke="#000" stroke-width="0.3">4</text>
<text transform="translate(380.20 17.51) scale(1 1)" font-size="4.0" text-anchor="end" stroke="#000" stroke-width="0.3">5</text>
<text transform="translate(380.20 5.83) scale(1 1)" font-size="4.0" text-anchor="end" stroke="#000" stroke-width="0.3">6</text>
<text transform="translate(393.68 83.38) scale(1 1.0)" font-size="4.4" text-anchor="middle" stroke="#000" stroke-width="0.3">Mock</text>
<text transform="translate(411.85 83.38) scale(1 1.0)" font-size="4.4" text-anchor="middle" stroke="#000" stroke-width="0.3">Lar</text>
<text transform="translate(411.85 88.58) scale(1 1.0)" font-size="4.4" text-anchor="middle" stroke="#000" stroke-width="0.3">50nM</text>
<text transform="translate(430.01 83.38) scale(1 1.0)" font-size="4.4" text-anchor="middle" stroke="#000" stroke-width="0.3">Lar</text>
<text transform="translate(430.01 88.58) scale(1 1.0)" font-size="4.4" text-anchor="middle" stroke="#000" stroke-width="0.3">100nM</text>
<text transform="translate(448.18 83.38) scale(1 1.0)" font-size="4.4" text-anchor="middle" stroke="#000" stroke-width="0.3">Lar-A</text>
<text transform="translate(448.18 88.58) scale(1 1.0)" font-size="4.4" text-anchor="middle" stroke="#000" stroke-width="0.3">50nM</text>
<text transform="translate(466.34 83.38) scale(1 1.0)" font-size="4.4" text-anchor="middle" stroke="#000" stroke-width="0.3">Lar-A</text>
<text transform="translate(466.34 88.58) scale(1 1.0)" font-size="4.4" text-anchor="middle" stroke="#000" stroke-width="0.3">100nM</text>
<text transform="translate(484.50 83.38) scale(1 1.0)" font-size="4.4" text-anchor="middle" stroke="#000" stroke-width="0.3">Lar-B</text>
<text transform="translate(484.50 88.58) scale(1 1.0)" font-size="4.4" text-anchor="middle" stroke="#000" stroke-width="0.3">50nM</text>
<text transform="translate(502.67 83.38) scale(1 1.0)" font-size="4.4" text-anchor="middle" stroke="#000" stroke-width="0.3">Lar-B</text>
<text transform="translate(502.67 88.58) scale(1 1.0)" font-size="4.4" text-anchor="middle" stroke="#000" stroke-width="0.3">100nM</text>
<text transform="translate(447.60 99.08) scale(1 1)" font-size="8.6" text-anchor="middle" stroke="#000" stroke-width="0.3">Largazole</text>
<text transform="translate(13.50 209.68) scale(1 1)" font-size="4.7" text-anchor="end" stroke="#000" stroke-width="0.3">0</text>
<text transform="translate(13.50 201.37) scale(1 1)" font-size="4.7" text-anchor="end" stroke="#000" stroke-width="0.3">1</text>
<text transform="translate(13.50 193.06) scale(1 1)" font-size="4.7" text-anchor="end" stroke="#000" stroke-width="0.3">2</text>
<text transform="translate(13.50 184.75) scale(1 1)" font-size="4.7" text-anchor="end" stroke="#000" stroke-width="0.3">3</text>
<text transform="translate(13.50 176.43) scale(1 1)" font-size="4.7" text-anchor="end" stroke="#000" stroke-width="0.3">4</text>
<text transform="translate(13.50 168.12) scale(1 1)" font-size="4.7" text-anchor="end" stroke="#000" stroke-width="0.3">5</text>
<text transform="translate(13.50 159.81) scale(1 1)" font-size="4.7" text-anchor="end" stroke="#000" stroke-width="0.3">6</text>
<text transform="translate(13.50 151.50) scale(1 1)" font-size="4.7" text-anchor="end" stroke="#000" stroke-width="0.3">7</text>
<text transform="translate(13.50 143.18) scale(1 1)" font-size="4.7" text-anchor="end" stroke="#000" stroke-width="0.3">8</text>
<text transform="translate(28.05 217.99) scale(1 1.0)" font-size="5.0" text-anchor="middle" stroke="#000" stroke-width="0.3">Mock</text>
<text transform="translate(47.90 217.99) scale(1 1.0)" font-size="5.0" text-anchor="middle" stroke="#000" stroke-width="0.3">200 nM</text>
<text transform="translate(67.40 217.99) scale(1 1.0)" font-size="5.0" text-anchor="middle" stroke="#000" stroke-width="0.3">500 nM</text>
<text transform="translate(86.90 217.99) scale(1 1.0)" font-size="5.0" text-anchor="middle" stroke="#000" stroke-width="0.3">1 µM</text>
<text transform="translate(47.90 238.08) scale(1 1)" font-size="8.6" text-anchor="middle" stroke="#000" stroke-width="0.3">Oxamflatin</text>
<text transform="translate(115.90 210.25) scale(1 1)" font-size="4.6" text-anchor="end" stroke="#000" stroke-width="0.3">0</text>
<text transform="translate(115.90 196.95) scale(1 1)" font-size="4.6" text-anchor="end" stroke="#000" stroke-width="0.3">1</text>
<text transform="translate(115.90 183.65) scale(1 1)" font-size="4.6" text-anchor="end" stroke="#000" stroke-width="0.3">2</text>
<text transform="translate(115.90 170.35) scale(1 1)" font-size="4.6" text-anchor="end" stroke="#000" stroke-width="0.3">3</text>
<text transform="translate(115.90 157.05) scale(1 1)" font-size="4.6" text-anchor="end" stroke="#000" stroke-width="0.3">4</text>
<text transform="translate(115.90 143.75) scale(1 1)" font-size="4.6" text-anchor="end" stroke="#000" stroke-width="0.3">5</text>
<text transform="translate(131.40 218.22) scale(1 1.0)" font-size="4.8" text-anchor="middle" stroke="#000" stroke-width="0.3">Mock</text>
<text transform="translate(153.60 218.22) scale(1 1.0)" font-size="4.8" text-anchor="middle" stroke="#000" stroke-width="0.3">1 µM</text>
<text transform="translate(140.40 238.11) scale(1 1)" font-size="8.7" text-anchor="middle" stroke="#000" stroke-width="0.3">Scriptaid</text>
<text transform="translate(185.10 210.68) scale(1 1)" font-size="4.4" text-anchor="end" stroke="#000" stroke-width="0.3">0</text>
<text transform="translate(185.10 197.61) scale(1 1)" font-size="4.4" text-anchor="end" stroke="#000" stroke-width="0.3">1</text>
<text transform="translate(185.10 184.54) scale(1 1)" font-size="4.4" text-anchor="end" stroke="#000" stroke-width="0.3">2</text>
<text transform="translate(185.10 171.47) scale(1 1)" font-size="4.4" text-anchor="end" stroke="#000" stroke-width="0.3">3</text>
<text transform="translate(185.10 158.40) scale(1 1)" font-size="4.4" text-anchor="end" stroke="#000" stroke-width="0.3">4</text>
<text transform="translate(185.10 145.33) scale(1 1)" font-size="4.4" text-anchor="end" stroke="#000" stroke-width="0.3">5</text>
<text transform="translate(198.80 217.81) scale(1 1.0)" font-size="4.5" text-anchor="middle" stroke="#000" stroke-width="0.3">Mock</text>
<text transform="translate(216.80 217.81) scale(1 1.0)" font-size="4.5" text-anchor="middle" stroke="#000" stroke-width="0.3">2 µM</text>
<text transform="translate(234.70 217.81) scale(1 1.0)" font-size="4.5" text-anchor="middle" stroke="#000" stroke-width="0.3">10 µM</text>
<text transform="translate(252.70 217.81) scale(1 1.0)" font-size="4.5" text-anchor="middle" stroke="#000" stroke-width="0.3">25 µM</text>
<text transform="translate(223.50 238.01) scale(1 1)" font-size="8.4" text-anchor="middle" stroke="#000" stroke-width="0.3">SAHA</text>
<text transform="translate(428.00 209.85) scale(1 1)" font-size="4.9" text-anchor="end" stroke="#000" stroke-width="0.3">0</text>
<text transform="translate(428.00 201.57) scale(1 1)" font-size="4.9" text-anchor="end" stroke="#000" stroke-width="0.3">5</text>
<text transform="translate(428.00 193.28) scale(1 1)" font-size="4.9" text-anchor="end" stroke="#000" stroke-width="0.3">10</text>
<text transform="translate(428.00 184.99) scale(1 1)" font-size="4.9" text-anchor="end" stroke="#000" stroke-width="0.3">15</text>
<text transform="translate(428.00 176.70) scale(1 1)" font-size="4.9" text-anchor="end" stroke="#000" stroke-width="0.3">20</text>
<text transform="translate(428.00 168.42) scale(1 1)" font-size="4.9" text-anchor="end" stroke="#000" stroke-width="0.3">25</text>
<text transform="translate(428.00 160.13) scale(1 1)" font-size="4.9" text-anchor="end" stroke="#000" stroke-width="0.3">30</text>
<text transform="translate(428.00 151.84) scale(1 1)" font-size="4.9" text-anchor="end" stroke="#000" stroke-width="0.3">35</text>
<text transform="translate(428.00 143.55) scale(1 1)" font-size="4.9" text-anchor="end" stroke="#000" stroke-width="0.3">40</text>
<text transform="translate(440.40 217.45) scale(1 1.0)" font-size="4.9" text-anchor="middle" stroke="#000" stroke-width="0.3">Mock</text>
<text transform="translate(457.20 217.45) scale(1 1.0)" font-size="4.9" text-anchor="middle" stroke="#000" stroke-width="0.3">0.1µM</text>
<text transform="translate(473.60 217.45) scale(1 1.0)" font-size="4.9" text-anchor="middle" stroke="#000" stroke-width="0.3">0.5µM</text>
<text transform="translate(490.50 217.45) scale(1 1.0)" font-size="4.9" text-anchor="middle" stroke="#000" stroke-width="0.3">1µM</text>
<text transform="translate(507.10 217.45) scale(1 1.0)" font-size="4.9" text-anchor="middle" stroke="#000" stroke-width="0.3">5µM</text>
<text transform="translate(478.30 238.08) scale(1 1)" font-size="8.6" text-anchor="middle" stroke="#000" stroke-width="0.3">PXD101</text>
<text transform="translate(293.90 189.90) scale(1 1)" font-size="4.2" text-anchor="end" stroke="#000" stroke-width="0.3">100</text>
<text transform="translate(293.90 178.72) scale(1 1)" font-size="4.2" text-anchor="end" stroke="#000" stroke-width="0.3">200</text>
<text transform="translate(293.90 167.54) scale(1 1)" font-size="4.2" text-anchor="end" stroke="#000" stroke-width="0.3">300</text>
<text transform="translate(293.90 156.36) scale(1 1)" font-size="4.2" text-anchor="end" stroke="#000" stroke-width="0.3">400</text>
<text transform="translate(293.90 145.18) scale(1 1)" font-size="4.2" text-anchor="end" stroke="#000" stroke-width="0.3">500</text>
<text transform="translate(293.90 134.00) scale(1 1)" font-size="4.2" text-anchor="end" stroke="#000" stroke-width="0.3">600</text>
<text transform="translate(293.90 213.30) scale(1 1)" font-size="4.2" text-anchor="end" stroke="#000" stroke-width="0.3">0</text>
<text transform="translate(293.90 208.64) scale(1 1)" font-size="4.2" text-anchor="end" stroke="#000" stroke-width="0.3">10</text>
<text transform="translate(293.90 203.97) scale(1 1)" font-size="4.2" text-anchor="end" stroke="#000" stroke-width="0.3">20</text>
<text transform="translate(293.90 199.30) scale(1 1)" font-size="4.2" text-anchor="end" stroke="#000" stroke-width="0.3">30</text>
<text transform="translate(305.90 220.04) scale(1 1.0)" font-size="4.3" text-anchor="middle" stroke="#000" stroke-width="0.3">Mock</text>
<text transform="translate(324.50 220.04) scale(1 1.0)" font-size="4.3" text-anchor="middle" stroke="#000" stroke-width="0.3">10 nM</text>
<text transform="translate(343.00 220.04) scale(1 1.0)" font-size="4.3" text-anchor="middle" stroke="#000" stroke-width="0.3">50 nM</text>
<text transform="translate(361.50 220.04) scale(1 1.0)" font-size="4.3" text-anchor="middle" stroke="#000" stroke-width="0.3">100 nM</text>
<text transform="translate(380.00 220.04) scale(1 1.0)" font-size="4.3" text-anchor="middle" stroke="#000" stroke-width="0.3">500 nM</text>
<text transform="translate(398.50 220.11) scale(1 1.0)" font-size="4.5" text-anchor="middle" stroke="#000" stroke-width="0.3">2.5mM</text>
<text transform="translate(398.50 224.50) scale(1 1.0)" font-size="3.9" text-anchor="middle" stroke="#000" stroke-width="0.3">NaB</text>
<text transform="translate(346.60 238.01) scale(1 1)" font-size="8.4" text-anchor="middle" stroke="#000" stroke-width="0.3">LBH589</text>
<text transform="translate(7.4,39.3) rotate(-90)" font-size="5.8" text-anchor="middle" stroke="#000" stroke-width="0.3">Fold Induction</text>
<text transform="translate(7.5,175) rotate(-90)" font-size="5.25" text-anchor="middle" stroke="#000" stroke-width="0.3">Fold Induction</text>
</g>
</svg>
</body>
</html>
